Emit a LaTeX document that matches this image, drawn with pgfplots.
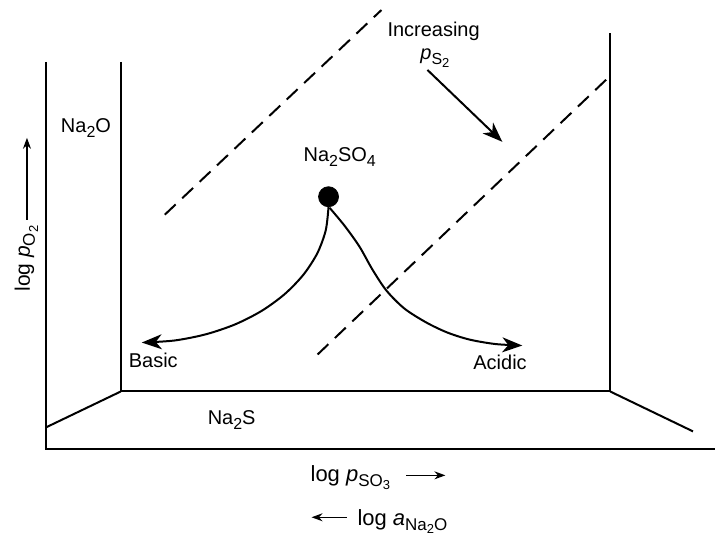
\documentclass[border=0pt]{standalone}
\usepackage{pgfplots}
\pgfplotsset{compat=1.18}
\usepackage{fontspec}
\setmainfont{Liberation Sans}
\usetikzlibrary{arrows.meta}
\newcommand{\sub}[1]{\raisebox{-0.45ex}{\fontsize{8}{9}\selectfont #1}}
\newcommand{\subb}[1]{\raisebox{-0.45ex}{\fontsize{8.5}{10}\selectfont #1}}
\newcommand{\subbb}[1]{\raisebox{-0.35ex}{\fontsize{6.5}{8}\selectfont #1}}
\begin{document}
\begin{tikzpicture}
\begin{axis}[
  width=358pt, height=268.5pt, scale only axis,
  xmin=0, xmax=716, ymin=0, ymax=537, y dir=reverse,
  hide axis, clip=false,
  every node/.style={font=\fontsize{10.5}{12}\selectfont, inner sep=0pt},
]
\addplot[draw=none] coordinates {(0,0) (716,537)};
% frame lines
\addplot[black, line width=1pt] coordinates {(46,62) (46,450) (716,450)};
\addplot[black, line width=1pt] coordinates {(121,62) (121,392) (611,392) (611,33)};
\addplot[black, line width=1pt] coordinates {(121,392) (46,428)};
\addplot[black, line width=1pt] coordinates {(611,392) (694,432)};
% dashed lines
\addplot[black, line width=1pt, dash pattern=on 7.5pt off 4.5pt] coordinates {(165,215) (382,10)};
\addplot[black, line width=1pt, dash pattern=on 7.5pt off 4.5pt] coordinates {(318,355) (611,76)};
% arrow increasing pS2
\addplot[black, line width=1pt, -{Stealth[length=10pt,width=7.5pt,inset=3pt]}] coordinates {(428,70) (503,142)};
% curves
\addplot[black, line width=1pt, smooth, -{Stealth[length=10pt,width=7.5pt,inset=3pt]}] coordinates {
(329,207) (326.2,230.6) (317.8,253.5) (303.9,275) (285.2,294.4) (262.2,311.2) (235.5,324.8) (206,334.8) (174.5,341) (142,343)};
\addplot[black, line width=1pt, smooth, -{Stealth[length=10pt,width=7.5pt,inset=3pt]}] coordinates {
(330,208) (345,226) (360,247) (373,270) (387,291) (405,309) (427,323) (448,333) (470,340) (496,344.5) (523,346)};
% dot
\addplot[only marks, mark=*, mark size=5pt, black] coordinates {(329,197)};
% labels
\node[anchor=base west] at (axis cs:54,133) {Na\sub{2}O};
\node[anchor=base west] at (axis cs:297,162) {Na\sub{2}SO\sub{4}};
\node[anchor=base west] at (axis cs:381,37) {Increasing};
\node[anchor=base west] at (axis cs:414,60) {\textit{p}\sub{S\subbb{2}}};
\node[anchor=base west] at (axis cs:122,368) {Basic};
\node[anchor=base west] at (axis cs:467,370) {Acidic};
\node[anchor=base west] at (axis cs:201,425) {Na\sub{2}S};
\node[anchor=base west, rotate=90, font=\fontsize{10.5}{12}\selectfont] at (axis cs:30,299) {log \textit{p}\subb{O\subbb{2}}};
\draw[black, line width=0.7pt, -{Stealth[length=5.5pt,width=4pt]}] (axis cs:27,220) -- (axis cs:27,138);
\node[anchor=base west, font=\fontsize{11}{12}\selectfont] at (axis cs:304,482) {log \textit{p}\subb{SO\subbb{3}}};
\draw[black, line width=0.7pt, -{Stealth[length=5.5pt,width=4pt]}] (axis cs:407,476) -- (axis cs:446,476);
\node[anchor=base west, font=\fontsize{11}{12}\selectfont] at (axis cs:351,526) {log \textit{a}\subb{Na\subbb{2}O}};
\draw[black, line width=0.7pt, -{Stealth[length=5.5pt,width=4pt]}] (axis cs:347,518) -- (axis cs:312,518);
\end{axis}
\end{tikzpicture}
\end{document}
